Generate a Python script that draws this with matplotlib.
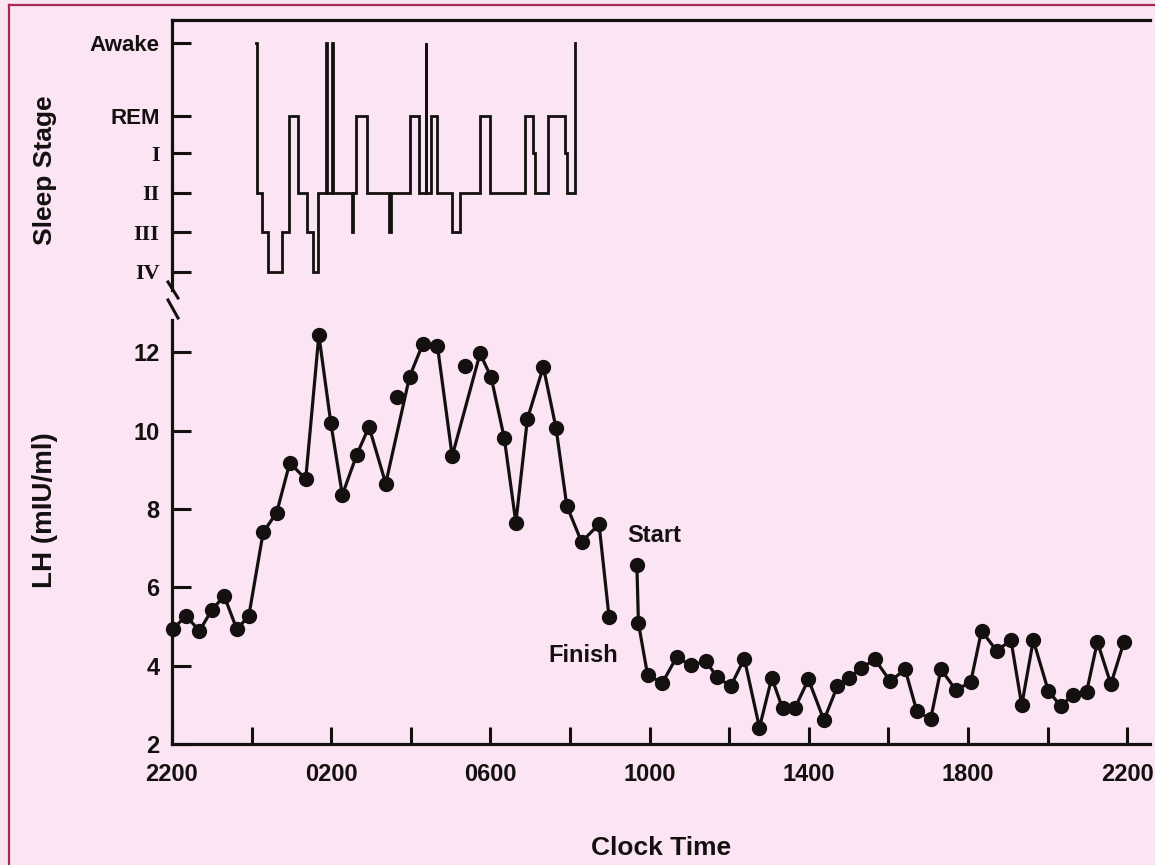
import matplotlib
matplotlib.use('Agg')
import matplotlib.pyplot as plt
from matplotlib.lines import Line2D
from matplotlib.ticker import FixedLocator

# ---------------- data ----------------
# hours after 22:00
stage_names = ['IV', 'III', 'II', 'I', 'REM', 'Awake']
stage_levels = [0, 1, 2, 3, 3.95, 5.8]

stage_times = [2.12, 2.14, 2.27, 2.40, 2.76, 2.95, 3.17, 3.38, 3.55, 3.68,
               3.87, 3.90, 4.02, 4.05, 4.52, 4.56, 4.62, 4.89, 5.46, 5.50,
               5.98, 6.21, 6.37, 6.39, 6.52, 6.65, 7.03, 7.24, 7.74, 7.99,
               8.87, 9.08, 9.12, 9.45, 9.87, 9.93, 10.13]
stages = ['Awake', 'II', 'III', 'IV', 'III', 'REM', 'II', 'III', 'IV', 'II',
          'Awake', 'II', 'Awake', 'II', 'III', 'II', 'REM', 'II', 'III', 'II',
          'REM', 'II', 'Awake', 'II', 'REM', 'II', 'III', 'II', 'REM', 'II',
          'REM', 'I', 'II', 'REM', 'I', 'II', 'Awake']

night_times = [0.02, 0.35, 0.69, 1.00, 1.31, 1.63, 1.93, 2.29, 2.63, 2.96,
               3.36, 3.69, 3.99, 4.28, 4.64, 4.95, 5.37, 5.97, 6.30, 6.67,
               7.04, 7.74, 8.02, 8.35, 8.64, 8.93, 9.33, 9.65, 9.92, 10.29,
               10.73, 10.98]
night_lh = [4.93, 5.27, 4.89, 5.42, 5.78, 4.93, 5.27, 7.40, 7.91, 9.18,
            8.76, 12.44, 10.20, 8.36, 9.38, 10.10, 8.65, 11.38, 12.21, 12.16,
            9.35, 11.97, 11.36, 9.80, 7.65, 10.30, 11.63, 10.06, 8.08, 7.16,
            7.61, 5.25]

extra_times = [5.65, 7.35]
extra_lh = [10.85, 11.66]

day_times = [11.68, 11.72, 11.95, 12.32, 12.68, 13.03, 13.42, 13.70, 14.04, 14.38,
             14.76, 15.07, 15.34, 15.65, 15.99, 16.38, 16.72, 17.01, 17.30, 17.66,
             18.05, 18.42, 18.71, 19.06, 19.32, 19.70, 20.07, 20.34, 20.72, 21.08,
             21.35, 21.64, 22.02, 22.33, 22.63, 22.98, 23.25, 23.59, 23.92]
day_lh = [6.57, 5.08, 3.76, 3.56, 4.22, 4.01, 4.11, 3.70, 3.48, 4.18,
          2.42, 3.69, 2.91, 2.91, 3.65, 2.61, 3.48, 3.69, 3.93, 4.16,
          3.60, 3.91, 2.85, 2.63, 3.91, 3.37, 3.59, 4.89, 4.38, 4.65,
          2.99, 4.65, 3.35, 2.97, 3.25, 3.33, 4.61, 3.53, 4.61]

x_major = [0, 4, 8, 12, 16, 20, 24]
x_labels = ['2200', '0200', '0600', '1000', '1400', '1800', '2200']
x_minor = [2, 6, 10, 14, 18, 22]
lh_ticks = [2, 4, 6, 8, 10, 12]

# ---------------- figure ----------------
W, H = 1155, 865
bg = '#fbe4f3'
ink = '#141010'
fig = plt.figure(figsize=(W / 100, H / 100), dpi=100)
fig.patch.set_facecolor(bg)

def fx(px):
    return px / W

def fy(py):
    return 1 - py / H

left, right = 172, 1150
xmax = (right - left) / 39.8

ax = fig.add_axes([fx(left), fy(744), fx(right) - fx(left), fy(320) - fy(744)])
ax_s = fig.add_axes([fx(left), fy(290), fx(right) - fx(left), fy(20) - fy(290)])

for a in (ax, ax_s):
    a.set_facecolor('none')
    a.set_xlim(0, xmax)
    for s in a.spines.values():
        s.set_linewidth(2.3)
        s.set_color(ink)

# LH axes
ax.spines['top'].set_visible(False)
ax.spines['right'].set_visible(False)
ax.set_ylim(2, 12.825)
ax.set_yticks(lh_ticks)
ax.set_yticklabels([str(t) for t in lh_ticks])
ax.xaxis.set_major_locator(FixedLocator(x_major))
ax.xaxis.set_minor_locator(FixedLocator(x_minor))
ax.set_xticklabels(x_labels)
ax.tick_params(axis='both', which='both', direction='in', length=12, width=2.2,
               color=ink, labelsize=17, labelcolor=ink)
ax.tick_params(axis='x', which='both', pad=14)
ax.tick_params(axis='y', length=14, pad=9)
for lab in ax.get_xticklabels() + ax.get_yticklabels():
    lab.set_fontfamily('Liberation Sans')
    lab.set_fontweight('bold')

ax.plot(night_times, night_lh, '-o', color=ink, lw=2.3, ms=10, clip_on=False)
ax.plot(day_times, day_lh, '-o', color=ink, lw=2.3, ms=10, clip_on=False)
ax.plot(extra_times, extra_lh, 'o', color=ink, ms=10, clip_on=False)

ax.text(11.43, 7.33, 'Start', fontsize=17, fontfamily='Liberation Sans',
        fontweight='bold', color=ink, ha='left', va='center')
ax.text(11.2, 4.27, 'Finish', fontsize=17, fontfamily='Liberation Sans',
        fontweight='bold', color=ink, ha='right', va='center')

ax.set_xlabel('Clock Time', fontsize=19, fontfamily='Liberation Sans',
              fontweight='bold', color=ink, labelpad=36)

# Sleep stage axes
ax_s.spines['bottom'].set_visible(False)
ax_s.spines['right'].set_visible(False)
ax_s.set_ylim(-0.456, 6.38)
ax_s.set_xticks([])
ax_s.set_yticks(stage_levels)
ax_s.set_yticklabels(stage_names)
ax_s.tick_params(axis='y', direction='in', length=14, width=2.2, color=ink,
                 labelcolor=ink, pad=9)
for lab in ax_s.get_yticklabels():
    if lab.get_text() in ('Awake', 'REM'):
        lab.set_fontfamily('Liberation Sans')
        lab.set_fontweight('bold')
        lab.set_fontsize(16)
    else:
        lab.set_fontfamily('Liberation Serif')
        lab.set_fontweight('bold')
        lab.set_fontsize(16)

level_of = dict(zip(stage_names, stage_levels))
ax_s.plot(stage_times, [level_of[s] for s in stages], color=ink, lw=2.0,
          drawstyle='steps-post', solid_joinstyle='miter')

# y labels
fig.text(fx(45), fy(170), 'Sleep Stage', rotation=90, ha='center', va='center',
         fontsize=19, fontfamily='Liberation Sans', fontweight='bold', color=ink)
fig.text(fx(45), fy(510), 'LH (mIU/ml)', rotation=90, ha='center', va='center',
         fontsize=20, fontfamily='Liberation Sans', fontweight='bold', color=ink)

# axis break marks
for (xa, ya, xb, yb) in [(168, 282, 178, 298), (168, 300, 178, 318)]:
    fig.add_artist(Line2D([fx(xa), fx(xb)], [fy(ya), fy(yb)], color=ink, lw=2.2))

# scan border
bc = '#a8284f'
fig.add_artist(Line2D([fx(9), fx(9)], [fy(5), fy(865)], color=bc, lw=1.6))
fig.add_artist(Line2D([fx(9), fx(1155)], [fy(5), fy(5)], color=bc, lw=1.6))

fig.savefig('out.png', dpi=100, facecolor=bg)
